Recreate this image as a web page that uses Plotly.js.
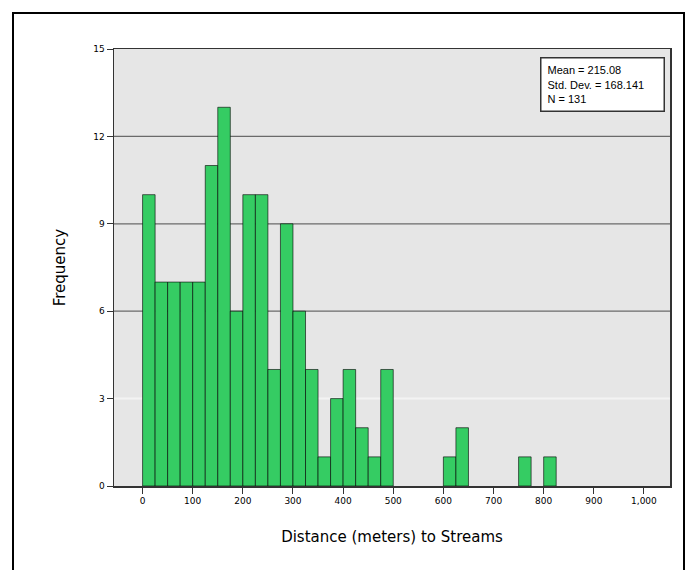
<!DOCTYPE html>
<html>
<head>
<meta charset="utf-8">
<script src="https://cdn.plot.ly/plotly-3.0.1.min.js"></script>
<style>
html,body{margin:0;padding:0;background:#fff;}
#wrap{position:relative;width:694px;height:570px;overflow:hidden;}
#chart{position:absolute;left:0;top:0;width:694px;height:570px;}
#frame{position:absolute;left:12px;top:12px;width:669px;height:600px;border-left:2px solid #000;border-top:2px solid #000;border-right:2px solid #000;pointer-events:none;}
</style>
</head>
<body>
<div id="wrap"><div id="chart"></div><div id="frame"></div></div>
<script>
// Histogram bins (start of each 25 m bin) and frequencies
const binStarts = [0,25,50,75,100,125,150,175,200,225,250,275,300,325,350,375,400,425,450,475,600,625,750,800];
const counts    = [10,7,7,7,7,11,13,6,10,10,4,9,6,4,1,3,4,2,1,4,1,2,1,1];
const binWidth = 25;
const xTickVals = [0,100,200,300,400,500,600,700,800,900,1000];
const xTickText = ["0","100","200","300","400","500","600","700","800","900","1,000"];
const yTickVals = [0,3,6,9,12,15];
const gridVals = [3,6,9,12];
const statsLines = ["Mean = 215.08","Std. Dev. = 168.141","N = 131"];

const trace = {
  type: 'bar',
  x: binStarts,
  y: counts,
  width: binStarts.map(() => binWidth),
  offset: 0,
  marker: {color: '#35cc63', line: {color: 'rgba(0,0,0,0.6)', width: 1}},
  hoverinfo: 'x+y'
};

const gridShapes = gridVals.map(v => ({
  type: 'line', xref: 'paper', x0: 0, x1: 1, yref: 'y', y0: v, y1: v,
  line: {color: v === 3 ? '#f3f3f3' : '#6a6a6a', width: v === 3 ? 2 : 1.2},
  layer: 'below'
}));

const layout = {
  width: 694, height: 570,
  margin: {l: 114, r: 24, t: 49, b: 84},
  paper_bgcolor: '#ffffff',
  plot_bgcolor: '#e6e6e6',
  font: {family: 'Liberation Sans, Arial, sans-serif', color: '#000'},
  showlegend: false,
  bargap: 0,
  xaxis: {
    range: [-57, 1052],
    tickvals: xTickVals, ticktext: xTickText,
    ticks: 'outside', ticklen: 6, tickcolor: '#333', tickwidth: 1,
    tickfont: {size: 9, family: 'DejaVu Sans, sans-serif'},
    showgrid: false, zeroline: false,
    showline: true, mirror: true, linecolor: '#333', linewidth: 1.5,
    title: {text: 'Distance (meters) to Streams', font: {size: 15, family: 'DejaVu Sans, sans-serif'}, standoff: 26}
  },
  yaxis: {
    range: [0, 15],
    tickvals: yTickVals,
    ticks: 'outside', ticklen: 6, tickcolor: '#333', tickwidth: 1,
    tickfont: {size: 9, family: 'DejaVu Sans, sans-serif'},
    showgrid: false,
    zeroline: false,
    showline: true, mirror: true, linecolor: '#333', linewidth: 1.5,
    title: {text: 'Frequency', font: {size: 15, family: 'DejaVu Sans, sans-serif'}, standoff: 24}
  },
  shapes: gridShapes,
  annotations: [{
    xref: 'paper', yref: 'paper', x: 0.991, y: 0.982,
    xanchor: 'right', yanchor: 'top', align: 'left', valign: 'middle',
    width: 110, height: 40,
    text: statsLines.join('<br>'),
    showarrow: false,
    font: {size: 11, color: '#000'},
    bgcolor: '#ffffff', bordercolor: '#333', borderwidth: 1.5, borderpad: 6
  }]
};

Plotly.newPlot('chart', [trace], layout, {displayModeBar: false, staticPlot: true});
</script>
</body>
</html>
